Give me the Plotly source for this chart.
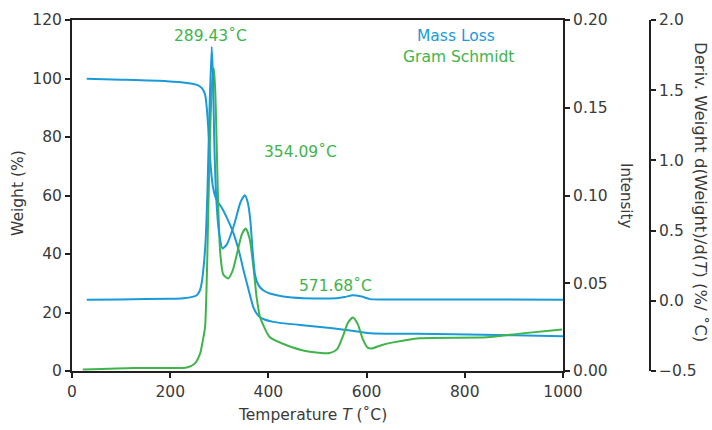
import plotly.graph_objects as go

# Weight (%) curve - Mass Loss (left axis)
weight_T = [30, 100, 193, 234, 255, 265, 271, 275, 279, 283, 287, 292, 298, 305, 315, 328, 340, 350, 360, 370, 380, 392, 410, 437, 480, 531, 570, 607, 700, 776, 900, 1000]
weight_W = [99.9, 99.6, 99.1, 98.5, 97.8, 96.6, 94.5, 89, 79, 69, 63, 59.5, 57.5, 55.8, 52.5, 47.5, 41, 34, 27.5, 21.5, 18.8, 17.6, 16.8, 16.2, 15.5, 14.6, 13.8, 12.9, 12.7, 12.6, 12.2, 11.9]

# Derivative weight curve (%/°C) - third axis
deriv_T = [30, 100, 200, 227, 245, 254, 260, 264, 268, 272, 276, 280, 284.5, 287, 290, 294, 299, 306.6, 315, 330, 343, 352, 358, 363, 368, 373, 380, 390, 403, 430, 471, 539, 555, 572, 590, 607, 700, 1000]
deriv_D = [0.008, 0.010, 0.015, 0.019, 0.028, 0.040, 0.070, 0.125, 0.24, 0.42, 0.80, 1.35, 1.81, 1.60, 1.10, 0.72, 0.50, 0.373, 0.40, 0.54, 0.70, 0.752, 0.70, 0.58, 0.35, 0.18, 0.11, 0.073, 0.052, 0.031, 0.019, 0.019, 0.027, 0.040, 0.030, 0.012, 0.010, 0.008]

# Gram Schmidt intensity curve - right axis
gs_T = [22, 125, 193, 234, 250, 261, 266, 271, 275, 278, 282, 286, 289, 292, 295, 298, 302, 308, 318, 327, 337, 346, 354, 362, 370, 376, 383, 403, 437, 478, 525, 540, 552, 562, 572, 582, 592, 602, 610, 630, 654, 708, 845, 912, 998]
gs_I = [0.0008, 0.0017, 0.0017, 0.0020, 0.0042, 0.010, 0.0167, 0.025, 0.058, 0.097, 0.142, 0.167, 0.1725, 0.158, 0.125, 0.092, 0.067, 0.055, 0.0527, 0.057, 0.068, 0.078, 0.0812, 0.075, 0.058, 0.042, 0.0307, 0.0192, 0.0147, 0.0113, 0.0102, 0.0125, 0.020, 0.0275, 0.0305, 0.0267, 0.0183, 0.0133, 0.0128, 0.0147, 0.0163, 0.0187, 0.0192, 0.0213, 0.0237]

peak_labels = ["289.43˚C", "354.09˚C", "571.68˚C"]

BLUE = "#1a9bd7"
GREEN = "#3fb44a"
AX = "#231f20"
TXT = "#3a3a3a"
FONT = "DejaVu Sans"
TICKSIZE = 15.5
LBL = 15.5

fig = go.Figure()
fig.add_trace(go.Scatter(x=weight_T, y=weight_W, mode="lines", yaxis="y",
                         line=dict(color=BLUE, width=2, shape="spline", smoothing=0.6), showlegend=False))
fig.add_trace(go.Scatter(x=deriv_T, y=deriv_D, mode="lines", yaxis="y3",
                         line=dict(color=BLUE, width=2, shape="spline", smoothing=0.6), showlegend=False))
fig.add_trace(go.Scatter(x=gs_T, y=gs_I, mode="lines", yaxis="y2",
                         line=dict(color=GREEN, width=2, shape="spline", smoothing=0.6), showlegend=False))

W, H = 712, 430
ml, mr, mt, mb = 72, 10, 20, 59
pw = W - ml - mr
ph = H - mt - mb
xdom_end = (563 - ml) / pw
y3pos = (650 - ml) / pw


def px(xp):
    return (xp - ml) / pw


def py(yp):
    return (H - mb - yp) / ph


axcommon = dict(showline=True, linecolor=AX, linewidth=2, ticks="outside", ticklen=5,
                tickcolor=AX, tickwidth=1.5, showgrid=False, zeroline=False, automargin=False,
                tickfont=dict(size=TICKSIZE, color=TXT, family=FONT))

fig.update_layout(
    width=W, height=H,
    margin=dict(l=ml, r=mr, t=mt, b=mb, autoexpand=False),
    paper_bgcolor="white", plot_bgcolor="white",
    font=dict(family=FONT, size=16, color=TXT),
    xaxis=dict(domain=[0, xdom_end], range=[0, 1000], tickvals=[0, 200, 400, 600, 800, 1000],
               mirror=True, **axcommon),
    yaxis=dict(range=[0, 120], tickvals=[0, 20, 40, 60, 80, 100, 120], **axcommon),
    yaxis2=dict(range=[0, 0.2], tickvals=[0, 0.05, 0.10, 0.15, 0.20], tickformat=".2f",
                overlaying="y", side="right", anchor="x", **axcommon),
    yaxis3=dict(range=[-0.5, 2.0], tickvals=[-0.5, 0, 0.5, 1.0, 1.5, 2.0], tickformat=".1f",
                overlaying="y", side="right", anchor="free", position=y3pos, **axcommon),
)

ann = []
ann.append(dict(x=px(210), y=py(36), text=peak_labels[0], font=dict(color=GREEN, size=LBL)))
ann.append(dict(x=px(300), y=py(152), text=peak_labels[1], font=dict(color=GREEN, size=LBL)))
ann.append(dict(x=px(335), y=py(286), text=peak_labels[2], font=dict(color=GREEN, size=LBL)))
ann.append(dict(x=px(456), y=py(36), text="Mass Loss", font=dict(color=BLUE, size=LBL)))
ann.append(dict(x=px(458), y=py(57), text="Gram Schmidt", font=dict(color=GREEN, size=LBL)))
ann.append(dict(x=px(18), y=py(193), text="Weight (%)", textangle=-90, font=dict(color=TXT, size=LBL)))
ann.append(dict(x=px(312), y=py(415), text="Temperature <i>T</i> (˚C)", font=dict(color=TXT, size=LBL)))
ann.append(dict(x=px(626), y=py(195), text="Intensity", textangle=90, font=dict(color=TXT, size=15)))
ann.append(dict(x=px(701), y=py(192), text="Deriv. Weight d(Weight)/d(<i>T</i>) (%/ ˚C)", textangle=90,
                font=dict(color=TXT, size=16.5)))
for a in ann:
    a.update(xref="paper", yref="paper", showarrow=False, xanchor="center", yanchor="middle")
fig.update_layout(annotations=ann)

fig.write_html("out.html")
